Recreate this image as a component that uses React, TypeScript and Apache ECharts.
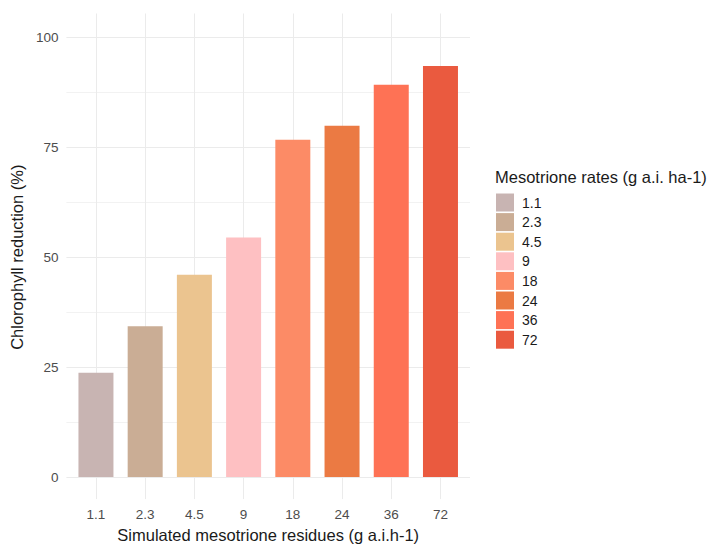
import React, { useEffect, useRef } from "react";
import * as echarts from "echarts";

const categories = ["1.1", "2.3", "4.5", "9", "18", "24", "36", "72"];
const reduction = [23.7, 34.3, 46.0, 54.5, 76.7, 79.9, 89.2, 93.5];
const barColors = ["#C8B4B2", "#CAAD95", "#EBC48F", "#FEC0C2", "#FC8B66", "#EB7A43", "#FE7255", "#EA5A3F"];
const categoryPositions = [1, 2, 3, 4, 5, 6, 7, 8];
const yTicks = [0, 25, 50, 75, 100];

const FONT = '"Liberation Sans", Arial, sans-serif';
const GRID_COLOR = "#EBEBEB";

export default function App() {
  const ref = useRef<HTMLDivElement>(null);
  useEffect(() => {
    if (!ref.current) return;
    const chart = echarts.init(ref.current, undefined, { renderer: "svg" });
    const series = categories.map((c, i) => ({
      name: c,
      type: "bar",
      xAxisIndex: 0,
      yAxisIndex: 0,
      barWidth: 35,
      barGap: "-100%",
      itemStyle: { color: barColors[i] },
      data: [[categoryPositions[i], reduction[i]]],
    }));
    chart.setOption({
      animation: false,
      backgroundColor: "#FFFFFF",
      textStyle: { fontFamily: FONT },
      title: {
        text: "Mesotrione rates (g a.i. ha-1)",
        left: 495,
        top: 168,
        padding: 0,
        textStyle: { fontFamily: FONT, fontSize: 16.5, fontWeight: "normal", color: "#1A1A1A" },
      },
      legend: {
        orient: "vertical",
        left: 496,
        top: 193.5,
        padding: 0,
        icon: "rect",
        itemWidth: 18,
        itemHeight: 18,
        itemGap: 1.6,
        data: categories,
        textStyle: { fontFamily: FONT, fontSize: 14, color: "#1A1A1A", padding: [0, 0, 0, 3] },
      },
      grid: { left: 63.5, right: 249, top: 37.3, bottom: 67, containLabel: false },
      xAxis: [
        {
          type: "value",
          min: 0.4,
          max: 8.6,
          position: "bottom",
          name: "Simulated mesotrione residues (g a.i.h-1)",
          nameLocation: "middle",
          nameGap: 46,
          nameTextStyle: { fontFamily: FONT, fontSize: 16.5, color: "#1A1A1A" },
          axisLine: { show: false },
          axisTick: { show: true, customValues: categoryPositions, length: 22, lineStyle: { color: GRID_COLOR, width: 1 } },
          axisLabel: {
            customValues: categoryPositions,
            formatter: (v: number) => categories[Math.round(v) - 1] ?? "",
            margin: 30,
            fontFamily: FONT,
            fontSize: 13.5,
            color: "#4D4D4D",
          },
          splitLine: { show: true, lineStyle: { color: GRID_COLOR, width: 1 } },
        },
        {
          type: "value",
          min: 0.4,
          max: 8.6,
          position: "top",
          axisLine: { show: false },
          axisTick: { show: true, customValues: categoryPositions, length: 23.8, lineStyle: { color: GRID_COLOR, width: 1 } },
          axisLabel: { show: false },
          splitLine: { show: false },
        },
      ],
      yAxis: {
        type: "value",
        min: 0,
        max: 100,
        interval: 25,
        name: "Chlorophyll reduction (%)",
        nameLocation: "middle",
        nameGap: 29,
        nameTextStyle: { fontFamily: FONT, fontSize: 16.5, color: "#1A1A1A" },
        axisLine: { show: false },
        axisTick: { show: false },
        axisLabel: {
          customValues: yTicks,
          margin: 8,
          fontFamily: FONT,
          fontSize: 13.5,
          color: "#4D4D4D",
        },
        splitLine: { show: true, lineStyle: { color: GRID_COLOR, width: 1 } },
        minorTick: { show: false, splitNumber: 2 },
        minorSplitLine: { show: true, lineStyle: { color: "#F2F2F2", width: 1 } },
      },
      series,
    });
    return () => chart.dispose();
  }, []);
  return (
    <div
      ref={ref}
      style={{ position: "fixed", left: 0, top: 0, width: 719, height: 548 }}
    />
  );
}
